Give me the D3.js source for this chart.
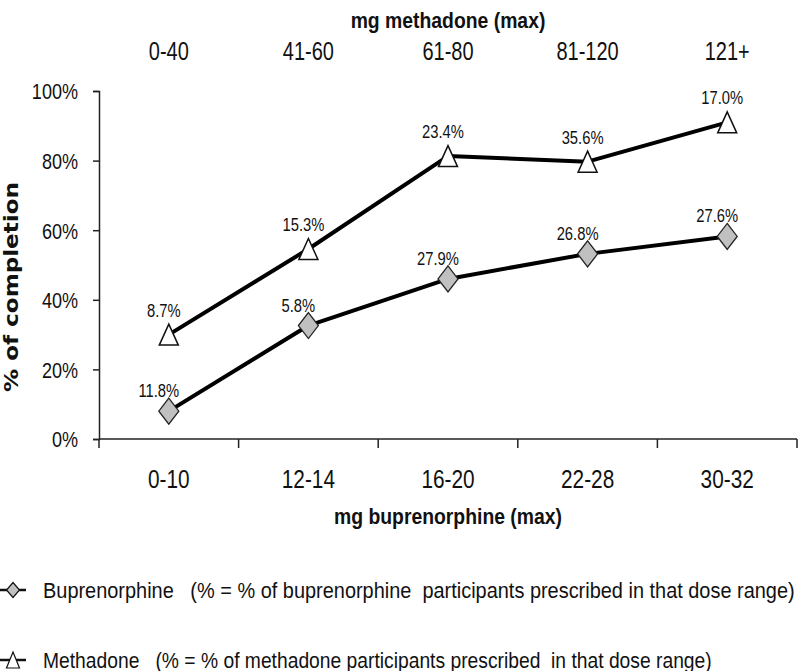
<!DOCTYPE html>
<html>
<head>
<meta charset="utf-8">
<script src="https://cdn.jsdelivr.net/npm/d3@7"></script>
<style>
  body { margin: 0; background: #fff; }
  text { font-family: "Liberation Sans", Arial, sans-serif; fill: #111; }
  .legend text { white-space: pre; }
</style>
</head>
<body>
<div id="chart"></div>
<script>
var svgWidth = 800;
var svgHeight = 671;

// categories
var buprenorphineDoses = ["0-10", "12-14", "16-20", "22-28", "30-32"];
var methadoneDoses = ["0-40", "41-60", "61-80", "81-120", "121+"];

// % of completion
var buprenorphineValues = [8, 32.6, 46, 53.2, 58.2];
var methadoneValues = [30, 54.6, 81.3, 79.7, 91];

// share of participants in each dose range (point labels)
var buprenorphineLabels = ["11.8%", "5.8%", "27.9%", "26.8%", "27.6%"];
var methadoneLabels = ["8.7%", "15.3%", "23.4%", "35.6%", "17.0%"];

var yTicks = [0, 20, 40, 60, 80, 100];

var legendNames = ["Buprenorphine", "Methadone"];
var legendNotes = [
    "(% = % of buprenorphine  participants prescribed in that dose range)",
    "(% = % of methadone participants prescribed  in that dose range)"
];

// squeeze text horizontally, like a narrow face
function squeeze(sel, k) {
    sel.each(function() {
        var w = this.getComputedTextLength();
        d3.select(this)
            .attr("textLength", w * k)
            .attr("lengthAdjust", "spacingAndGlyphs");
    });
}

var svg = d3.select("#chart")
    .append("svg")
    .attr("width", svgWidth)
    .attr("height", svgHeight);

var xScale = d3.scaleBand()
    .domain(d3.range(buprenorphineDoses.length))
    .range([99, 797])
    .padding(0);

var yScale = d3.scaleLinear()
    .domain([0, 100])
    .range([439, 91]);

var cx = i => xScale(i) + xScale.bandwidth() / 2;

// y axis
var leftAxis = d3.axisLeft(yScale)
    .tickValues(yTicks)
    .tickSize(6)
    .tickPadding(15)
    .tickFormat(d => d + "%");

var yAxisG = svg.append("g")
    .attr("transform", "translate(99,0)")
    .call(leftAxis);
yAxisG.attr("font-family", null).attr("font-size", null);
yAxisG.select(".domain").attr("stroke", "#222").attr("stroke-width", 1.5);
yAxisG.selectAll(".tick line").attr("stroke", "#222").attr("stroke-width", 1.5);
yAxisG.selectAll(".tick text")
    .style("font-size", "22px")
    .attr("dy", "0.36em")
    .call(squeeze, 0.82);

// x axis (bottom) with ticks on the band boundaries
var xAxisG = svg.append("g")
    .attr("transform", "translate(0,439)");
xAxisG.append("line")
    .attr("x1", 99).attr("x2", xScale.range()[1])
    .attr("stroke", "#222").attr("stroke-width", 1.5);
xAxisG.selectAll(".btick")
    .data(d3.range(buprenorphineDoses.length + 1))
    .enter()
    .append("line")
    .attr("class", "btick")
    .attr("x1", d => xScale.range()[0] + d * xScale.bandwidth())
    .attr("x2", d => xScale.range()[0] + d * xScale.bandwidth())
    .attr("y1", 0).attr("y2", 9)
    .attr("stroke", "#222").attr("stroke-width", 1.5);

svg.append("g").selectAll("text")
    .data(buprenorphineDoses)
    .enter()
    .append("text")
    .attr("x", (d, i) => cx(i))
    .attr("y", 488)
    .attr("text-anchor", "middle")
    .style("font-size", "26px")
    .text(d => d)
    .call(squeeze, 0.8);

// top category labels
svg.append("g").selectAll("text")
    .data(methadoneDoses)
    .enter()
    .append("text")
    .attr("x", (d, i) => cx(i))
    .attr("y", 60)
    .attr("text-anchor", "middle")
    .style("font-size", "25px")
    .text(d => d)
    .call(squeeze, 0.8);

// axis titles
svg.append("text")
    .attr("x", cx(2))
    .attr("y", 28)
    .attr("text-anchor", "middle")
    .style("font-size", "22px")
    .style("font-weight", "bold")
    .text("mg methadone (max)")
    .call(squeeze, 0.88);

svg.append("text")
    .attr("x", cx(2))
    .attr("y", 524)
    .attr("text-anchor", "middle")
    .style("font-size", "22px")
    .style("font-weight", "bold")
    .text("mg buprenorphine (max)")
    .call(squeeze, 0.88);

svg.append("text")
    .attr("transform", "translate(18,287) rotate(-90)")
    .attr("text-anchor", "middle")
    .style("font-family", "'DejaVu Sans', sans-serif")
    .style("font-size", "20px")
    .style("font-weight", "bold")
    .attr("textLength", 210)
    .attr("lengthAdjust", "spacingAndGlyphs")
    .text("% of completion");

// lines
var line = d3.line()
    .x((d, i) => cx(i))
    .y(d => yScale(d));

[methadoneValues, buprenorphineValues].forEach(function(vals) {
    svg.append("path")
        .datum(vals)
        .attr("fill", "none")
        .attr("stroke", "#000")
        .attr("stroke-width", 4)
        .attr("stroke-linejoin", "round")
        .attr("d", line);
});

// markers
var diamond = (w, h) => `M0,${-h / 2}L${w / 2},0L0,${h / 2}L${-w / 2},0Z`;
var triangle = (w, h) => `M0,${-h / 2}L${w / 2},${h / 2}L${-w / 2},${h / 2}Z`;

svg.append("g").selectAll("path")
    .data(methadoneValues)
    .enter()
    .append("path")
    .attr("transform", (d, i) => `translate(${cx(i)},${yScale(d)})`)
    .attr("d", triangle(19, 21))
    .attr("fill", "#fff")
    .attr("stroke", "#111")
    .attr("stroke-width", 1.5);

svg.append("g").selectAll("path")
    .data(buprenorphineValues)
    .enter()
    .append("path")
    .attr("transform", (d, i) => `translate(${cx(i)},${yScale(d)})`)
    .attr("d", diamond(20, 26))
    .attr("fill", "#c0c0c0")
    .attr("stroke", "#222")
    .attr("stroke-width", 1.3);

// point labels
svg.append("g").selectAll("text")
    .data(methadoneValues)
    .enter()
    .append("text")
    .attr("x", (d, i) => cx(i) - 5)
    .attr("y", d => yScale(d) - 18)
    .attr("text-anchor", "middle")
    .style("font-size", "18px")
    .text((d, i) => methadoneLabels[i])
    .call(squeeze, 0.82);

svg.append("g").selectAll("text")
    .data(buprenorphineValues)
    .enter()
    .append("text")
    .attr("x", (d, i) => cx(i) - 10)
    .attr("y", d => yScale(d) - 14)
    .attr("text-anchor", "middle")
    .style("font-size", "18px")
    .text((d, i) => buprenorphineLabels[i])
    .call(squeeze, 0.82);

// legend
var legend = svg.append("g").attr("class", "legend");
var legendY = [590, 660];
var legendWidth = [752, 669];

legendNames.forEach(function(name, i) {
    var y = legendY[i];
    legend.append("line")
        .attr("x1", 0).attr("x2", 26)
        .attr("y1", y).attr("y2", y)
        .attr("stroke", "#111").attr("stroke-width", 2.5);
    legend.append("path")
        .attr("transform", `translate(13,${y})`)
        .attr("d", i === 0 ? diamond(13, 15) : triangle(13, 16))
        .attr("fill", i === 0 ? "#c0c0c0" : "#fff")
        .attr("stroke", "#111")
        .attr("stroke-width", 1.2);
    var t = legend.append("text")
        .attr("x", 0)
        .attr("y", 0)
        .style("font-size", "22px")
        .text(name + "   " + legendNotes[i]);
    var k = legendWidth[i] / t.node().getComputedTextLength();
    t.attr("transform", `translate(43,${y + 8}) scale(${k},1)`);
});
</script>
</body>
</html>
